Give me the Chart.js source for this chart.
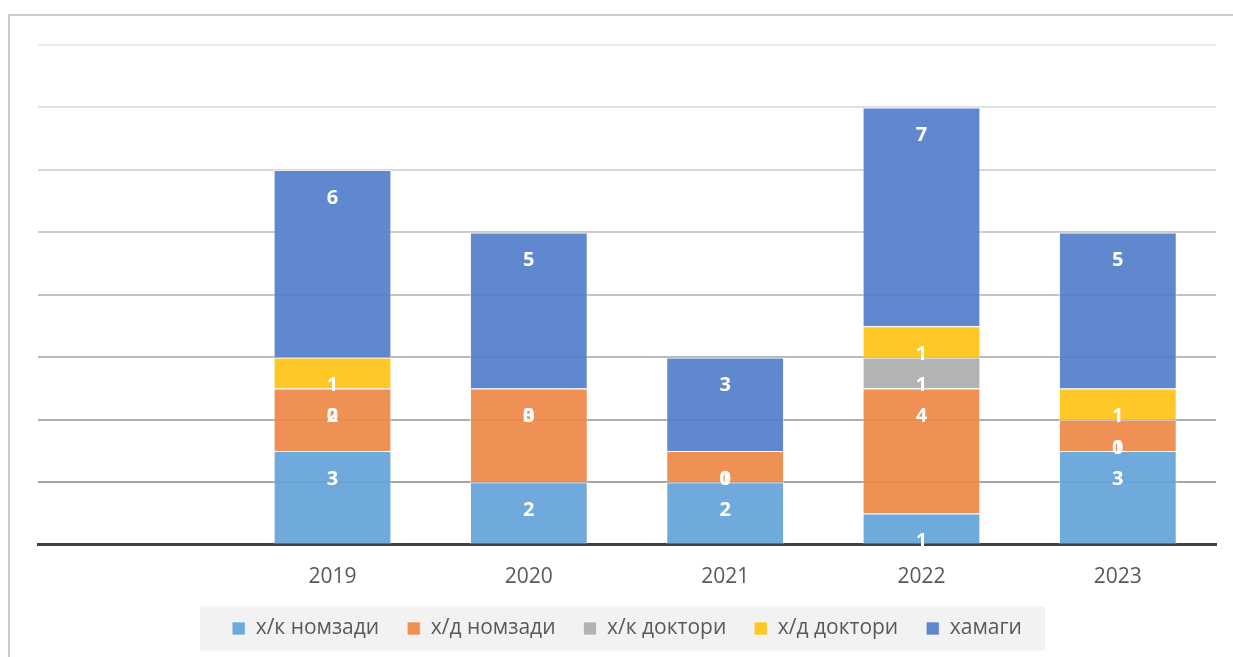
<!DOCTYPE html>
<html lang="tg">
<head>
  <meta charset="UTF-8">
  <title>Хатмкунандагон 2019–2023</title>
  <script src="https://cdn.jsdelivr.net/npm/chart.js"></script>
  <style>
    html, body { margin: 0; padding: 0; background: #fff; overflow: hidden; }
    .frame { position: absolute; left: 8px; top: 14px; width: 1260px; height: 680px; border: 2px solid #cacaca; box-sizing: border-box; }
    #chart { position: absolute; left: 0; top: 0; }
  </style>
</head>
<body>
  <div class="frame"></div>
  <canvas id="chart" width="1233" height="657"></canvas>
  <script>
    // categories (first slot is an empty category in the original sheet)
    const years = ['', '2019', '2020', '2021', '2022', '2023'];
    const seriesNames = ['х/к номзади', 'х/д номзади', 'х/к доктори', 'х/д доктори', 'хамаги'];
    const hkNomzadi = [null, 3, 2, 2, 1, 3];
    const hdNomzadi = [null, 2, 3, 1, 4, 1];
    const hkDoktori = [null, 0, 0, 0, 1, 0];
    const hdDoktori = [null, 1, 0, 0, 1, 1];
    const hamagi    = [null, 6, 5, 3, 7, 5];
    const yTicks = [0, 2, 4, 6, 8, 10, 12, 14, 16];

    const colors = ['rgba(100,163,218,0.92)', 'rgba(238,136,70,0.92)', 'rgba(172,172,172,0.92)', 'rgba(255,195,20,0.92)', 'rgba(82,126,202,0.92)'];
    const font = '"Open Sans", "Noto Sans", sans-serif';

    // white value labels near the top of each segment (Excel "inside end")
    const valueLabels = {
      id: 'valueLabels',
      afterDatasetsDraw(chart) {
        const ctx = chart.ctx;
        ctx.save();
        ctx.font = 'bold 20px ' + font;
        ctx.fillStyle = '#fff';
        ctx.textAlign = 'center';
        ctx.textBaseline = 'middle';
        chart.data.datasets.forEach((ds, i) => {
          chart.getDatasetMeta(i).data.forEach((bar, j) => {
            const v = ds.data[j];
            if (v === null || v === undefined) return;
            ctx.fillText(String(v), bar.x, Math.min(bar.y, bar.base) + 28);
          });
        });
        ctx.restore();
      }
    };

    // light grey panel behind the legend
    const legendPanel = {
      id: 'legendPanel',
      beforeDraw(chart) {
        const boxes = chart.legend && chart.legend.legendHitBoxes;
        if (!boxes || !boxes.length) return;
        const left = Math.min(...boxes.map(b => b.left)) - 32;
        const right = Math.max(...boxes.map(b => b.left + b.width)) + 23;
        const mid = boxes[0].top + boxes[0].height / 2;
        const ctx = chart.ctx;
        ctx.save();
        ctx.fillStyle = '#f2f2f2';
        ctx.fillRect(left, mid - 22, right - left, 44);
        ctx.restore();
      }
    };

    const series = [hkNomzadi, hdNomzadi, hkDoktori, hdDoktori, hamagi];
    const gray = v => 'rgb(' + [0, 0, 0].map(() => 155 + 5 * v).join(',') + ')';

    new Chart(document.getElementById('chart'), {
      type: 'bar',
      data: {
        labels: years,
        datasets: series.map((d, i) => ({
          label: seriesNames[i],
          data: d,
          backgroundColor: colors[i],
          borderColor: 'rgba(255,255,255,0.55)',
          borderWidth: 1,
          categoryPercentage: 1,
          barPercentage: 0.6
        }))
      },
      options: {
        responsive: false,
        animation: false,
        layout: { padding: { left: 38, right: 17, top: 45, bottom: 8 } },
        plugins: {
          tooltip: { enabled: false },
          legend: {
            position: 'bottom',
            labels: {
              font: { family: font, size: 21 },
              color: '#595959',
              boxWidth: 13,
              boxHeight: 13,
              padding: 28
            }
          }
        },
        scales: {
          x: {
            stacked: true,
            grid: { display: false, drawTicks: false },
            border: { display: true, color: '#404040', width: 3 },
            ticks: { color: '#595959', font: { family: font, size: 21 }, padding: 20 },
            // padding is counted twice by Chart.js; keep only the space above the labels
            afterFit(scale) { scale.height -= scale.options.ticks.padding; }
          },
          y: {
            stacked: true,
            min: yTicks[0],
            max: yTicks[yTicks.length - 1],
            afterBuildTicks(scale) { scale.ticks = yTicks.map(v => ({ value: v })); },
            ticks: { display: false },
            border: { display: false },
            grid: {
              drawTicks: false,
              lineWidth: 2,
              color: c => c.tick && c.tick.value === 0 ? 'rgba(0,0,0,0)' : gray(c.tick.value)
            }
          }
        }
      },
      plugins: [legendPanel, valueLabels]
    });
  </script>
</body>
</html>
